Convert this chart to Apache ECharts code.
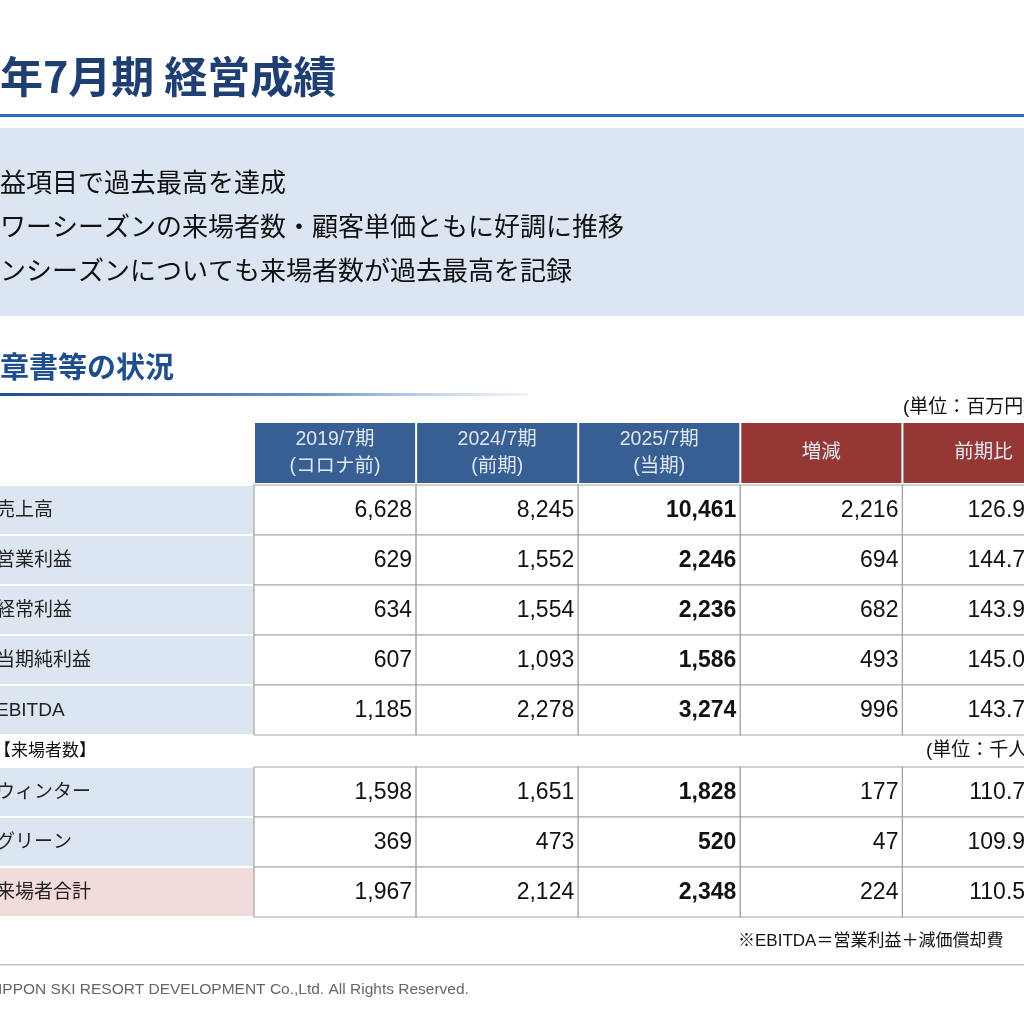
<!DOCTYPE html>
<html><head><meta charset="utf-8">
<script src="https://cdn.jsdelivr.net/npm/echarts@6/dist/echarts.min.js"></script>
<style>html,body{margin:0;padding:0;background:#fff}#c{width:1024px;height:1024px}</style>
</head><body><div id="c"></div>
<script>
const headers = ['2019/7期\n(コロナ前)', '2024/7期\n(前期)', '2025/7期\n(当期)', '増減', '前期比'];
const finLabels = ['売上高', '営業利益', '経常利益', '当期純利益', 'EBITDA'];
const fin2019 = ['6,628', '629', '634', '607', '1,185'];
const fin2024 = ['8,245', '1,552', '1,554', '1,093', '2,278'];
const fin2025 = ['10,461', '2,246', '2,236', '1,586', '3,274'];
const finDiff = ['2,216', '694', '682', '493', '996'];
const finRatio = ['126.9%', '144.7%', '143.9%', '145.0%', '143.7%'];
const visLabels = ['ウィンター', 'グリーン', '来場者合計'];
const vis2019 = ['1,598', '369', '1,967'];
const vis2024 = ['1,651', '473', '2,124'];
const vis2025 = ['1,828', '520', '2,348'];
const visDiff = ['177', '47', '224'];
const visRatio = ['110.7%', '109.9%', '110.5%'];
const bullets = ['益項目で過去最高を達成', 'ワーシーズンの来場者数・顧客単価ともに好調に推移', 'ンシーズンについても来場者数が過去最高を記録'];

const NUMF = '"Liberation Sans", Arial, sans-serif';
const JPF = '"Noto Sans CJK JP", sans-serif';
const MIXF = '"Liberation Sans", "Noto Sans CJK JP", sans-serif';
const chart = echarts.init(document.getElementById('c'));

function cells(cols) {
  const d = [];
  cols.forEach((col, c) => col.forEach((v, r) => d.push([c, r])));
  return d;
}
const finCols = [fin2019, fin2024, fin2025, finDiff, finRatio];
const visCols = [vis2019, vis2024, vis2025, visDiff, visRatio];

function numRender(cols) {
  return function (params, api) {
    const c = api.value(0), r = api.value(1);
    const p = api.coord([c, r]); const s = api.size([1, 1]);
    const x = p[0] - s[0] / 2, y = p[1] - s[1] / 2;
    const rightPad = c === 4 ? 19 : 4;
    return { type: 'group', children: [
      { type: 'rect', shape: { x: x, y: y, width: s[0], height: s[1] }, style: { fill: '#fff', stroke: '#a6a6a6', lineWidth: 1.2 } },
      { type: 'text', style: { text: cols[c][r], x: x + s[0] - rightPad, y: p[1] + 1, align: 'right', verticalAlign: 'middle',
        font: (c === 2 ? 'bold ' : '') + '23px ' + NUMF, fill: '#111' } }
    ]};
  };
}
function labelRender(labels, pinkLast) {
  return function (params, api) {
    const r = api.value(1);
    const p = api.coord([0, r]); const s = api.size([1, 1]);
    const x = p[0] - s[0] / 2, y = p[1] - s[1] / 2;
    const pink = pinkLast && r === labels.length - 1;
    return { type: 'group', children: [
      { type: 'rect', shape: { x: x, y: y + 1, width: s[0], height: s[1] - 2 }, style: { fill: pink ? '#f2dcdb' : '#dce6f1' } },
      { type: 'text', style: { text: labels[r], x: x - 4, y: p[1] + 1, align: 'left', verticalAlign: 'middle',
        font: '19px ' + MIXF, fill: '#222' } }
    ]};
  };
}
function headRender(params, api) {
  const c = api.value(0);
  const p = api.coord([c, 0]); const s = api.size([1, 1]);
  const x = p[0] - s[0] / 2, y = p[1] - s[1] / 2;
  return { type: 'group', children: [
    { type: 'rect', shape: { x: x + 1, y: y, width: s[0] - 2, height: s[1] }, style: { fill: c < 3 ? '#375f93' : '#953735' } },
    { type: 'text', style: { text: headers[c], x: p[0], y: p[1], align: 'center', verticalAlign: 'middle',
      font: '19.5px ' + MIXF, lineHeight: 27, fill: '#dfe6f0' } }
  ]};
}

const grids = [
  { left: 254, top: 423, right: 0, height: 60 },
  { left: 0, top: 485, width: 254, height: 250 },
  { left: 254, top: 485, right: 0, height: 250 },
  { left: 0, top: 767, width: 254, height: 150 },
  { left: 254, top: 767, right: 0, height: 150 }
];
const xAxis = grids.map((g, i) => (i === 1 || i === 3)
  ? { gridIndex: i, type: 'value', min: -0.5, max: 0.5, show: false, splitLine: { show: false } }
  : { gridIndex: i, type: 'value', min: -0.5, max: 4.25, show: false, splitLine: { show: false } });
const yAxis = grids.map((g, i) => ({ gridIndex: i, type: 'category', inverse: true, show: false,
  data: i === 0 ? ['h'] : (i <= 2 ? finLabels : visLabels) }));

chart.setOption({
  animation: false,
  grid: grids,
  xAxis: xAxis, yAxis: yAxis,
  graphic: [
    { type: 'text', left: 0, top: 55, style: { text: '年7月期 経営成績', font: 'bold 43px ' + JPF, fill: '#1f3f73' } },
    { type: 'rect', shape: { x: 0, y: 114, width: 1024, height: 3 }, style: { fill: '#2f6db3' } },
    { type: 'rect', shape: { x: 0, y: 128, width: 1024, height: 188 }, style: { fill: '#dce6f2' } },
    { type: 'text', left: 0, top: 169, style: { text: bullets[0], font: '26px ' + JPF, fill: '#111' } },
    { type: 'text', left: 0, top: 213, style: { text: bullets[1], font: '26px ' + JPF, fill: '#111' } },
    { type: 'text', left: 0, top: 257, style: { text: bullets[2], font: '26px ' + JPF, fill: '#111' } },
    { type: 'text', left: 0, top: 352, style: { text: '章書等の状況', font: 'bold 29px ' + JPF, fill: '#1f4e8c' } },
    { type: 'rect', shape: { x: 0, y: 393, width: 528, height: 3 }, style: { fill: new echarts.graphic.LinearGradient(0, 0, 1, 0, [{ offset: 0, color: '#1f4e8c' }, { offset: 0.6, color: '#6d95c6' }, { offset: 1, color: 'rgba(200,215,235,0.3)' }]) } },
    { type: 'text', x: 903, y: 398, style: { text: '(単位：百万円)', font: '19px ' + MIXF, fill: '#111' } },
    { type: 'text', x: -6, y: 741, style: { text: '【来場者数】', font: '17px ' + JPF, fill: '#111' } },
    { type: 'text', x: 926, y: 741, style: { text: '(単位：千人)', font: '19px ' + MIXF, fill: '#111' } },
    { type: 'text', x: 738, y: 933, style: { text: '※EBITDA＝営業利益＋減価償却費', font: '17px ' + MIXF, fill: '#111' } },
    { type: 'rect', shape: { x: 0, y: 964, width: 1024, height: 1.5 }, style: { fill: '#b8c4d4' } },
    { type: 'text', x: -2, y: 982, style: { text: 'IPPON SKI RESORT DEVELOPMENT Co.,Ltd. All Rights Reserved.', font: '15.5px ' + NUMF, fill: '#666' } }
  ],
  series: [
    { type: 'custom', xAxisIndex: 0, yAxisIndex: 0, renderItem: headRender, data: headers.map((h, c) => [c, 0]) },
    { type: 'custom', xAxisIndex: 1, yAxisIndex: 1, renderItem: labelRender(finLabels, false), data: finLabels.map((l, r) => [0, r]) },
    { type: 'custom', xAxisIndex: 2, yAxisIndex: 2, renderItem: numRender(finCols), data: cells(finCols) },
    { type: 'custom', xAxisIndex: 3, yAxisIndex: 3, renderItem: labelRender(visLabels, true), data: visLabels.map((l, r) => [0, r]) },
    { type: 'custom', xAxisIndex: 4, yAxisIndex: 4, renderItem: numRender(visCols), data: cells(visCols) }
  ]
});
</script></body></html>
